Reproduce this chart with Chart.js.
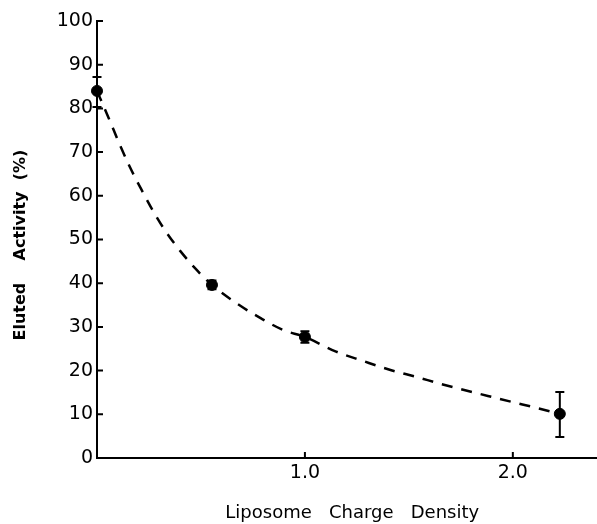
<!DOCTYPE html>
<html>
<head>
<meta charset="utf-8">
<script src="https://cdn.jsdelivr.net/npm/chart.js@4/dist/chart.umd.min.js"></script>
<style>
html,body{margin:0;padding:0;background:#fff;}
#wrap{width:597px;height:524px;}
</style>
</head>
<body>
<div id="wrap"><canvas id="c" width="597" height="524"></canvas></div>
<script>
// Measured data points
const chargeDensity = [0, 0.553, 1.0, 2.226];
const elutedActivity = [84, 39.6, 27.7, 10.1];
const errHigh = [87.2, 40.6, 29.0, 15.1];
const errLow = [80.3, 38.6, 26.4, 4.8];

// Dashed fitted curve
const fitX = [0, 0.058, 0.106, 0.157, 0.214, 0.271, 0.331, 0.40, 0.476, 0.553, 0.684, 0.787, 0.895, 1.0, 1.147, 1.28, 1.40, 1.54, 1.65, 1.78, 1.88, 1.99, 2.12, 2.226];
const fitY = [84, 77.6, 72.1, 66.7, 61.4, 56.4, 51.8, 47.4, 43.2, 39.6, 35.0, 32.0, 29.3, 27.7, 24.4, 22.2, 20.3, 18.5, 17.0, 15.4, 14.2, 12.9, 11.4, 10.1];

// Axis ticks
const yTicks = [0, 10, 20, 30, 40, 50, 60, 70, 80, 90, 100];
const xTicks = [1.0, 2.0];

const pointData = chargeDensity.map((x, i) => ({x: x, y: elutedActivity[i]}));
const fitData = fitX.map((x, i) => ({x: x, y: fitY[i]}));

const errorBars = {
  id: 'errorBars',
  afterDatasetsDraw(chart) {
    const ctx = chart.ctx, xs = chart.scales.x, ys = chart.scales.y;
    ctx.save();
    ctx.strokeStyle = '#000';
    ctx.lineWidth = 2;
    chargeDensity.forEach((x, i) => {
      const px = xs.getPixelForValue(x);
      const pt = ys.getPixelForValue(errHigh[i]);
      const pb = ys.getPixelForValue(errLow[i]);
      ctx.beginPath();
      ctx.moveTo(px, pt); ctx.lineTo(px, pb);
      ctx.moveTo(px - 4.5, pt); ctx.lineTo(px + 4.5, pt);
      ctx.moveTo(px - 4.5, pb); ctx.lineTo(px + 4.5, pb);
      ctx.stroke();
    });
    ctx.restore();
  }
};

const insideTicks = {
  id: 'insideTicks',
  afterDraw(chart) {
    const ctx = chart.ctx, xs = chart.scales.x, ys = chart.scales.y;
    const x0 = xs.getPixelForValue(0);
    const y0 = ys.getPixelForValue(0);
    ctx.save();
    ctx.strokeStyle = '#000';
    ctx.lineWidth = 2;
    ctx.beginPath();
    yTicks.forEach(v => {
      if (v === 0) return;
      const py = ys.getPixelForValue(v);
      ctx.moveTo(x0, py); ctx.lineTo(x0 + 6, py);
    });
    xTicks.forEach(v => {
      const px = xs.getPixelForValue(v);
      ctx.moveTo(px, y0); ctx.lineTo(px, y0 - 6);
    });
    ctx.stroke();
    ctx.restore();
  }
};

new Chart(document.getElementById('c'), {
  type: 'scatter',
  data: {
    datasets: [
      {
        data: fitData,
        showLine: true,
        borderColor: '#000',
        borderWidth: 2.5,
        borderDash: [11, 9],
        pointRadius: 0,
        cubicInterpolationMode: 'monotone',
        clip: false,
        order: 2
      },
      {
        data: pointData,
        showLine: false,
        pointRadius: 5.5,
        pointBackgroundColor: '#000',
        pointBorderColor: '#000',
        clip: false,
        order: 1
      }
    ]
  },
  options: {
    responsive: false,
    animation: false,
    devicePixelRatio: 1,
    layout: {autoPadding: false, padding: {left: 0, right: 1, top: 21, bottom: 0}},
    plugins: {legend: {display: false}, tooltip: {enabled: false}},
    scales: {
      x: {
        type: 'linear',
        min: 0,
        max: 2.4,
        grid: {display: false, drawTicks: false, tickLength: 0},
        border: {display: true, color: '#000', width: 2},
        ticks: {
          stepSize: 1,
          includeBounds: false,
          padding: 4,
          color: '#000',
          font: {family: 'DejaVu Sans', size: 19},
          callback: v => (xTicks.includes(v) ? v.toFixed(1) : '')
        },
        title: {
          display: true,
          text: '  Liposome   Charge   Density',
          color: '#000',
          font: {family: 'DejaVu Sans', size: 18},
          padding: {top: 0, bottom: 0}
        },
        afterFit(scale) { scale.height = 66; scale.paddingRight = 0; scale.paddingLeft = 0; }
      },
      y: {
        type: 'linear',
        min: 0,
        max: 100,
        grid: {display: false, drawTicks: false, tickLength: 0},
        border: {display: true, color: '#000', width: 2},
        ticks: {
          stepSize: 10,
          padding: 4,
          color: '#000',
          font: {family: 'DejaVu Sans', size: 19},
          callback: v => (yTicks.includes(v) ? String(v) : '')
        },
        title: {
          display: true,
          text: 'Eluted    Activity  (%)  ',
          color: '#000',
          font: {family: 'DejaVu Sans', size: 16, weight: 'bold'},
          padding: {top: 11, bottom: 0}
        },
        afterFit(scale) { scale.width = 97; }
      }
    }
  },
  plugins: [errorBars, insideTicks]
});
</script>
</body>
</html>
